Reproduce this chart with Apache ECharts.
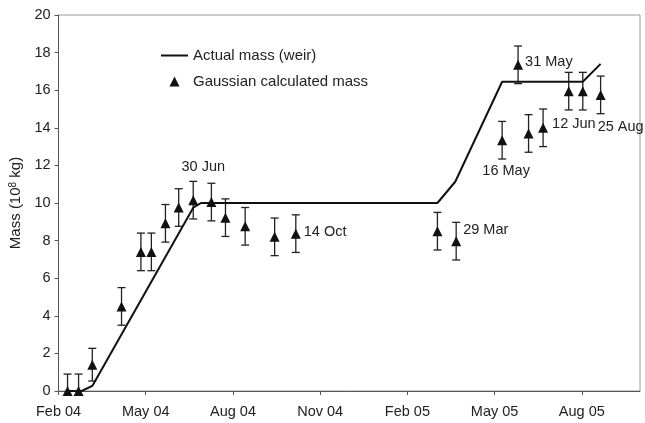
<!DOCTYPE html>
<html>
<head>
<meta charset="utf-8">
<script src="https://cdn.jsdelivr.net/npm/echarts@6/dist/echarts.min.js"></script>
<style>
  html, body { margin: 0; padding: 0; background: #fff; }
  #chart { width: 645px; height: 423px; }
</style>
</head>
<body>
<div id="chart"></div>
<script>
// x axis: months counted from 1 Feb 2004, ticks every 3 months
const tickLabels = ['Feb 04', 'May 04', 'Aug 04', 'Nov 04', 'Feb 05', 'May 05', 'Aug 05'];

// Actual mass (weir)
const weirDates = ['2004-02-09', '2004-02-24', '2004-03-06', '2004-06-20', '2004-06-28',
    '2005-03-02', '2005-03-21', '2005-05-09', '2005-08-02', '2005-08-21'];
const weirMass = [0, 0, 0.27, 9.75, 10, 10, 11.13, 16.45, 16.45, 17.4];

// Gaussian calculated mass, with error bar half-length
const pointDates = ['2004-02-10', '2004-02-21', '2004-03-06', '2004-04-06', '2004-04-26',
    '2004-05-07', '2004-05-22', '2004-06-05', '2004-06-20', '2004-07-09', '2004-07-24',
    '2004-08-14', '2004-09-14', '2004-10-06', '2005-03-02', '2005-03-22', '2005-05-09',
    '2005-05-26', '2005-06-06', '2005-06-21', '2005-07-18', '2005-08-02', '2005-08-21'];
const pointMass = [0, 0, 1.4, 4.5, 7.4, 7.4, 8.92, 9.76, 10.15, 10.05, 9.22, 8.76,
    8.2, 8.37, 8.5, 7.97, 13.34, 17.35, 13.7, 14.0, 15.95, 15.95, 15.75];
const pointErr = [0.9, 0.9, 0.87, 1, 1, 1, 1, 1, 1, 1, 1, 1,
    1, 1, 1, 1, 1, 1, 1, 1, 1, 1, 1];
const pointLabels = ['', '', '', '', '', '', '', '', '30 Jun', '', '', '',
    '', '14 Oct', '', '29 Mar', '16 May', '31 May', '', '12 Jun', '', '', '25 Aug'];

const labelPlace = {
    '30 Jun': { position: 'top', distance: 5, offset: [10, -16] },
    '14 Oct': { position: 'right', distance: 3, offset: [0, -2] },
    '29 Mar': { position: 'right', distance: 2, offset: [0, -11] },
    '16 May': { position: 'bottom', distance: 5, offset: [4, 13] },
    '31 May': { position: 'right', distance: 2, offset: [0, -3] },
    '12 Jun': { position: 'right', distance: 4, offset: [0, -4] },
    '25 Aug': { position: 'bottom', distance: 5, offset: [20, 15] }
};

function toMonths(str) {
    const [y, m, d] = str.split('-').map(Number);
    const days = new Date(y, m, 0).getDate();
    return (y - 2004) * 12 + (m - 2) + (d - 1) / days;
}

const textColor = '#222';
const font = 'Liberation Sans, Arial, sans-serif';

const weirData = weirDates.map((d, i) => [toMonths(d), weirMass[i]]);
const errData = pointDates.map((d, i) => [toMonths(d), pointMass[i], pointErr[i]]);
const pointData = pointDates.map((d, i) => {
    const item = { value: [toMonths(d), pointMass[i]] };
    if (pointLabels[i]) {
        item.label = Object.assign({
            show: true,
            formatter: pointLabels[i],
            color: textColor,
            fontSize: 14.5,
            fontFamily: font
        }, labelPlace[pointLabels[i]]);
    }
    return item;
});

const myChart = echarts.init(document.getElementById('chart'), null, { renderer: 'canvas' });

const option = {
    backgroundColor: '#fff',
    animation: false,
    textStyle: { fontFamily: font },
    grid: {
        left: 57, top: 15, right: 5, bottom: 32,
        show: true, borderColor: '#999', borderWidth: 1
    },
    legend: {
        orient: 'vertical',
        left: 156,
        top: 43,
        itemWidth: 27,
        itemHeight: 10,
        itemGap: 11,
        symbolKeepAspect: true,
        textStyle: { color: textColor, fontSize: 15, fontFamily: font },
        data: [
            { name: 'Actual mass (weir)', icon: 'path://M0,0 H27 V2 H0 Z' },
            { name: 'Gaussian calculated mass', icon: 'path://M5,0 L10,10 L0,10 Z' }
        ]
    },
    xAxis: {
        type: 'value',
        min: 0,
        max: 20,
        interval: 3,
        axisLine: { lineStyle: { color: '#555', width: 1 } },
        axisTick: { show: true, length: 4, lineStyle: { color: '#555' } },
        splitLine: { show: false },
        axisLabel: {
            color: textColor,
            fontSize: 14.5,
            margin: 13,
            showMaxLabel: false,
            formatter: v => (v % 3 === 0 && tickLabels[v / 3]) ? tickLabels[v / 3] : ''
        }
    },
    yAxis: {
        type: 'value',
        min: 0,
        max: 20,
        interval: 2,
        name: 'Mass (10{sup|8} kg)',
        nameLocation: 'middle',
        nameGap: 33,
        nameTextStyle: {
            color: textColor,
            fontSize: 15,
            fontFamily: font,
            rich: {
                sup: { fontSize: 10, verticalAlign: 'top', padding: [0, 0, 6, 0], color: textColor, fontFamily: font }
            }
        },
        axisLine: { show: true, lineStyle: { color: '#555', width: 1 } },
        axisTick: { show: true, length: 4, lineStyle: { color: '#555' } },
        splitLine: { show: false },
        axisLabel: { color: textColor, fontSize: 14.5, margin: 8 }
    },
    series: [
        {
            name: 'Actual mass (weir)',
            type: 'line',
            data: weirData,
            symbol: 'none',
            lineStyle: { color: '#111', width: 2 },
            itemStyle: { color: '#111' },
            z: 3
        },
        {
            name: 'error',
            type: 'custom',
            data: errData,
            clip: true,
            z: 2,
            renderItem: (params, api) => {
                const x = api.value(0), y = api.value(1), e = api.value(2);
                const top = api.coord([x, y + e]);
                const bot = api.coord([x, y - e]);
                const w = 4;
                const style = { stroke: '#222', lineWidth: 1.3 };
                return {
                    type: 'group',
                    children: [
                        { type: 'line', shape: { x1: top[0], y1: top[1], x2: bot[0], y2: bot[1] }, style },
                        { type: 'line', shape: { x1: top[0] - w, y1: top[1], x2: top[0] + w, y2: top[1] }, style },
                        { type: 'line', shape: { x1: bot[0] - w, y1: bot[1], x2: bot[0] + w, y2: bot[1] }, style }
                    ]
                };
            }
        },
        {
            name: 'Gaussian calculated mass',
            type: 'scatter',
            data: pointData,
            symbol: 'triangle',
            symbolSize: 10,
            itemStyle: { color: '#111', opacity: 1 },
            z: 4
        }
    ]
};

myChart.setOption(option);
</script>
</body>
</html>
